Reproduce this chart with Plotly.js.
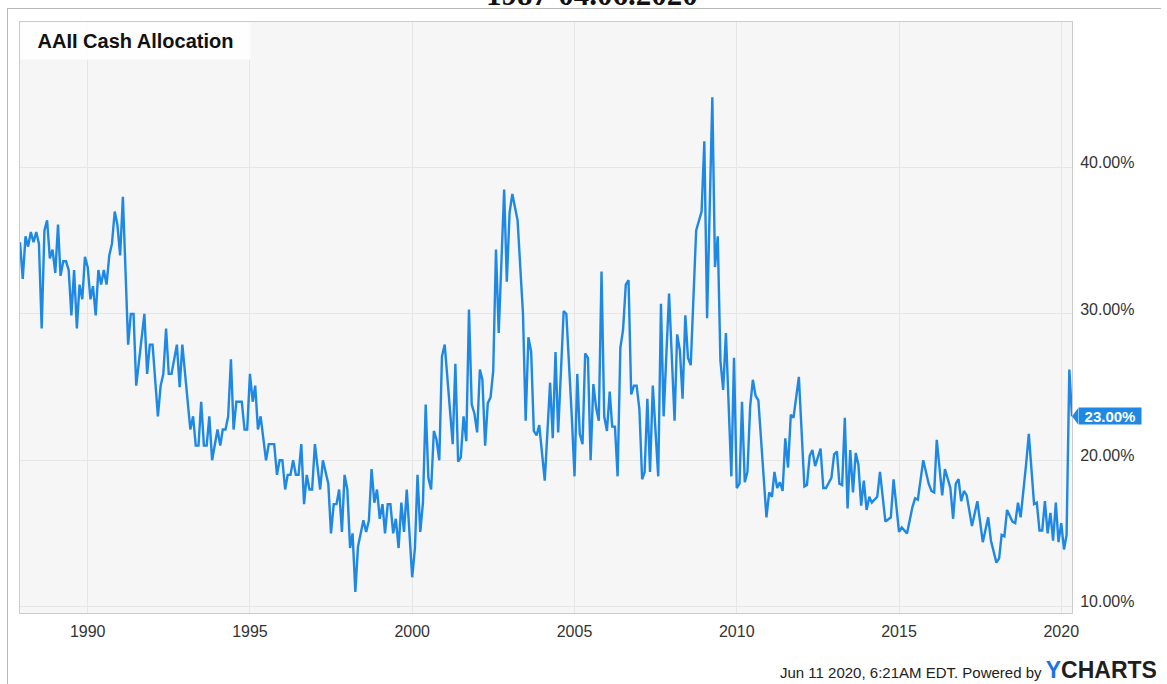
<!DOCTYPE html>
<html>
<head>
<meta charset="utf-8">
<script src="https://cdn.plot.ly/plotly-3.0.1.min.js"></script>
<style>
  html, body { margin: 0; padding: 0; background: #ffffff; }
  #chart { position: absolute; left: 0; top: 0; width: 1167px; height: 684px; }
  #frame { position: absolute; left: 7px; top: 8px; width: 1153px; height: 680px;
           border-left: 1px solid #b8b8b8; border-top: 1px solid #b8b8b8;
           pointer-events: none; z-index: 5; }
</style>
</head>
<body>
<div id="chart"></div>
<div id="frame"></div>
<script>
const seriesName = "AAII Cash Allocation";
const topTitle = "1987-04.06.2020";
const creditText = "Jun 11 2020, 6:21AM EDT. Powered by ";
const yTickVals = [10, 20, 30, 40];
const xTickYears = [1990, 1995, 2000, 2005, 2010, 2015, 2020];

const dates = [
"1987-12","1988-01","1988-02","1988-03","1988-04","1988-05","1988-06","1988-07","1988-08","1988-09","1988-10","1988-11","1988-12",
"1989-01","1989-02","1989-03","1989-04","1989-05","1989-06","1989-07","1989-08","1989-09","1989-10","1989-11","1989-12",
"1990-01","1990-02","1990-03","1990-04","1990-05","1990-06","1990-07","1990-08","1990-09","1990-10","1990-11","1990-12",
"1991-01","1991-02","1991-04","1991-05","1991-06","1991-07","1991-09","1991-10","1991-11","1991-12",
"1992-01","1992-03","1992-04","1992-05","1992-06","1992-07","1992-08","1992-10","1992-11","1992-12",
"1993-03","1993-04","1993-05","1993-06","1993-07","1993-08","1993-09","1993-10","1993-11",
"1994-01","1994-02","1994-03","1994-04","1994-05","1994-06","1994-07","1994-08","1994-10","1994-11","1994-12",
"1995-01","1995-02","1995-03","1995-04","1995-05","1995-07","1995-08","1995-10","1995-11","1995-12",
"1996-01","1996-02","1996-03","1996-04","1996-05","1996-06","1996-07","1996-08","1996-09","1996-10","1996-11","1996-12",
"1997-01","1997-03","1997-04","1997-06","1997-07","1997-08","1997-09","1997-10","1997-11","1997-12",
"1998-01","1998-02","1998-03","1998-04","1998-05","1998-07","1998-08","1998-09","1998-10","1998-11","1998-12",
"1999-01","1999-02","1999-03","1999-04","1999-05","1999-06","1999-07","1999-08","1999-09","1999-10","1999-11",
"2000-01","2000-02","2000-03","2000-04","2000-05","2000-06","2000-07","2000-08","2000-09","2000-10","2000-11","2000-12",
"2001-01","2001-04","2001-05","2001-06","2001-07","2001-08","2001-09","2001-10","2001-11","2001-12",
"2002-01","2002-02","2002-03","2002-04","2002-05","2002-06","2002-07","2002-08","2002-09","2002-11","2002-12",
"2003-01","2003-02","2003-04","2003-06","2003-07","2003-08","2003-09","2003-10","2003-11","2003-12",
"2004-02","2004-04","2004-05","2004-06","2004-07","2004-09","2004-10","2004-12",
"2005-01","2005-02","2005-03","2005-04","2005-05","2005-06","2005-07","2005-08","2005-09","2005-10","2005-11","2005-12",
"2006-01","2006-02","2006-03","2006-04","2006-05","2006-06","2006-07","2006-08","2006-09","2006-10","2006-11","2006-12",
"2007-01","2007-02","2007-03","2007-04","2007-05","2007-06","2007-08","2007-09","2007-10","2007-12",
"2008-02","2008-03","2008-04","2008-05","2008-06","2008-07","2008-08","2008-10","2008-12",
"2009-01","2009-02","2009-04","2009-05","2009-06","2009-07","2009-08","2009-09","2009-11","2009-12",
"2010-01","2010-02","2010-03","2010-04","2010-05","2010-06","2010-07","2010-08","2010-09","2010-12",
"2011-01","2011-02","2011-03","2011-04","2011-05","2011-06","2011-07","2011-08","2011-09","2011-10","2011-12",
"2012-02","2012-03","2012-04","2012-05","2012-06","2012-08","2012-09","2012-10","2012-12",
"2013-01","2013-02","2013-03","2013-04","2013-05","2013-06","2013-07","2013-08","2013-09","2013-10","2013-11","2013-12",
"2014-01","2014-02","2014-03","2014-05","2014-06","2014-08","2014-10","2014-11",
"2015-01","2015-02","2015-04","2015-06","2015-07","2015-08","2015-10","2015-12",
"2016-01","2016-02","2016-03","2016-04","2016-05","2016-06","2016-08","2016-09","2016-10","2016-11","2016-12",
"2017-01","2017-02","2017-04","2017-06","2017-08","2017-10","2017-11",
"2018-01","2018-02","2018-03","2018-04","2018-05","2018-07","2018-08","2018-09","2018-10","2018-12",
"2019-01","2019-03","2019-04","2019-05","2019-06","2019-07","2019-08","2019-09","2019-10","2019-11","2019-12",
"2020-01","2020-02","2020-03","2020-04","2020-05"
];

const cash = [
34.9,32.4,35.3,34.6,35.6,34.9,35.6,34.8,29.0,35.7,36.4,33.8,34.4,
32.8,36.1,32.6,33.6,33.6,33.0,29.9,33.0,29.0,32.0,31.0,33.9,
33.2,31.0,31.9,29.9,33.0,32.0,33.0,32.0,34.0,34.8,37.0,36.1,
34.0,38.0,27.9,30.0,30.0,25.1,28.2,30.0,25.9,27.9,
27.9,23.0,25.1,25.9,29.0,25.9,25.9,27.9,25.0,27.9,
22.1,23.0,21.0,21.0,24.0,21.0,21.0,23.0,20.0,
22.1,21.0,22.1,22.1,23.0,26.9,22.1,24.0,24.0,22.1,22.1,
25.9,24.0,25.1,22.1,23.0,20.0,21.1,21.1,19.0,20.0,
20.0,18.0,19.0,19.0,20.0,19.0,19.0,21.1,17.0,19.0,18.0,18.0,
21.1,18.0,20.0,18.4,15.0,17.0,17.0,18.0,15.1,19.0,
18.0,14.0,15.0,11.0,14.1,15.9,15.1,15.9,19.4,17.1,18.0,
16.0,17.0,15.0,17.0,17.0,15.0,16.0,14.0,17.1,15.1,18.0,
12.0,14.0,19.0,15.1,17.1,23.8,18.8,18.0,22.0,21.4,20.0,27.1,
27.9,21.1,26.6,19.9,20.2,23.0,21.3,30.3,23.8,23.2,
21.9,26.2,25.5,21.0,23.9,24.3,26.1,34.4,28.7,38.5,32.2,
36.9,38.2,36.4,30.0,22.7,28.4,27.4,22.0,21.7,22.4,
18.6,25.3,21.5,27.4,21.9,30.2,30.0,23.0,
18.9,25.9,21.8,21.1,27.3,27.0,20.0,25.2,23.6,22.7,32.9,23.0,
22.0,24.7,22.3,22.3,18.9,27.7,28.9,32.0,32.3,24.5,25.1,25.1,
23.5,18.7,19.2,24.2,19.2,25.1,18.9,30.7,23.0,31.4,
22.7,28.6,27.5,24.2,29.9,27.0,26.5,35.7,37.0,
41.8,29.7,44.8,33.2,35.3,26.8,24.8,28.7,18.9,27.0,
18.1,18.4,24.0,18.5,19.2,23.7,25.5,24.4,24.1,16.1,
17.8,17.5,19.2,18.1,18.5,17.9,21.5,19.5,23.1,22.9,25.7,
18.2,18.3,20.3,20.7,19.6,20.8,18.1,18.1,18.8,
20.4,20.6,18.4,18.3,22.9,16.7,20.7,17.8,20.5,19.7,16.9,18.6,
16.6,17.5,17.1,17.5,19.2,15.8,16.1,18.7,
15.1,15.4,15.0,16.8,17.4,17.3,20.0,18.4,
17.9,17.8,21.4,19.4,17.6,19.4,18.1,16.0,18.4,18.7,17.2,
17.9,17.6,15.5,17.2,14.4,16.1,14.5,
13.0,13.3,14.9,14.8,16.6,15.8,15.7,17.1,16.1,19.7,
21.8,17.0,17.1,15.2,15.2,17.2,15.0,16.4,14.5,17.1,14.4,
15.7,13.9,14.9,26.2,23.0
];

const lineColor = "#1e88e5";
const lastVal = cash[cash.length - 1];

const trace = {
  type: "scatter",
  mode: "lines",
  x: dates,
  y: cash,
  name: seriesName,
  line: { color: lineColor, width: 2.4 },
  hoverinfo: "x+y",
  showlegend: false
};

const axisFont = { family: "Liberation Sans, Arial, sans-serif", size: 16, color: "#333333" };

const layout = {
  width: 1167,
  height: 684,
  margin: { l: 20, r: 95, t: 22, b: 71, pad: 0 },
  paper_bgcolor: "#ffffff",
  plot_bgcolor: "#f6f6f6",
  showlegend: false,
  xaxis: {
    type: "date",
    range: [dates[0], dates[dates.length - 1]],
    tickvals: xTickYears.map(y => y + "-01-01"),
    ticktext: xTickYears.map(String),
    showgrid: true,
    gridcolor: "#e6e6e6",
    gridwidth: 1,
    zeroline: false,
    showline: true,
    linecolor: "#cccccc",
    linewidth: 1,
    mirror: true,
    ticks: "",
    tickfont: axisFont,
    ticklabelstandoff: 4
  },
  yaxis: {
    side: "right",
    range: [9.56, 49.95],
    tickvals: yTickVals,
    ticktext: yTickVals.map(v => v.toFixed(2) + "%"),
    ticklabelshift: -5,
    showgrid: true,
    gridcolor: "#e6e6e6",
    gridwidth: 1,
    zeroline: false,
    showline: true,
    linecolor: "#cccccc",
    linewidth: 1,
    mirror: true,
    ticks: "",
    tickfont: axisFont,
    ticklabelstandoff: 4
  },
  shapes: [
    {
      type: "path",
      xref: "paper", yref: "y",
      xsizemode: "pixel", ysizemode: "pixel",
      xanchor: 1, yanchor: lastVal,
      path: "M0,0 L6,8 L6,-8 Z",
      fillcolor: lineColor,
      line: { width: 0 },
      layer: "above"
    }
  ],
  annotations: [
    {
      xref: "paper", yref: "paper", x: 0, y: 1,
      xanchor: "left", yanchor: "top",
      text: "<b>" + seriesName + "</b>",
      showarrow: false,
      font: { family: "Liberation Sans, Arial, sans-serif", size: 20, color: "#111111" },
      bgcolor: "rgba(255,255,255,0.85)",
      width: 221, height: 28, borderpad: 4, align: "center"
    },
    {
      xref: "paper", yref: "y", x: 1, y: lastVal,
      xanchor: "left", yanchor: "middle", xshift: 6,
      text: "<b>" + lastVal.toFixed(2) + "%</b>",
      showarrow: false,
      font: { family: "Liberation Sans, Arial, sans-serif", size: 15, color: "#ffffff" },
      bgcolor: lineColor,
      width: 60, height: 14, borderpad: 1, align: "center"
    },
    {
      xref: "paper", yref: "paper", x: 0.5437, y: 1,
      xanchor: "center", yanchor: "middle", yshift: 28,
      text: "<b>" + topTitle + "</b>",
      showarrow: false,
      font: { family: "Liberation Serif, Times New Roman, serif", size: 31, color: "#111111" }
    },
    {
      xref: "paper", yref: "paper", x: 1, y: 0,
      xanchor: "right", yanchor: "middle", xshift: 87, yshift: -57,
      text: creditText + '<span style="font-size:23px;font-weight:bold;color:#1a73e8">Y</span>' +
            '<span style="font-size:23px;font-weight:bold;color:#1f1f1f">CHARTS</span>',
      showarrow: false,
      font: { family: "Liberation Sans, Arial, sans-serif", size: 15, color: "#222222" }
    }
  ]
};

Plotly.newPlot("chart", [trace], layout, { displayModeBar: false, staticPlot: true });
</script>
</body>
</html>
